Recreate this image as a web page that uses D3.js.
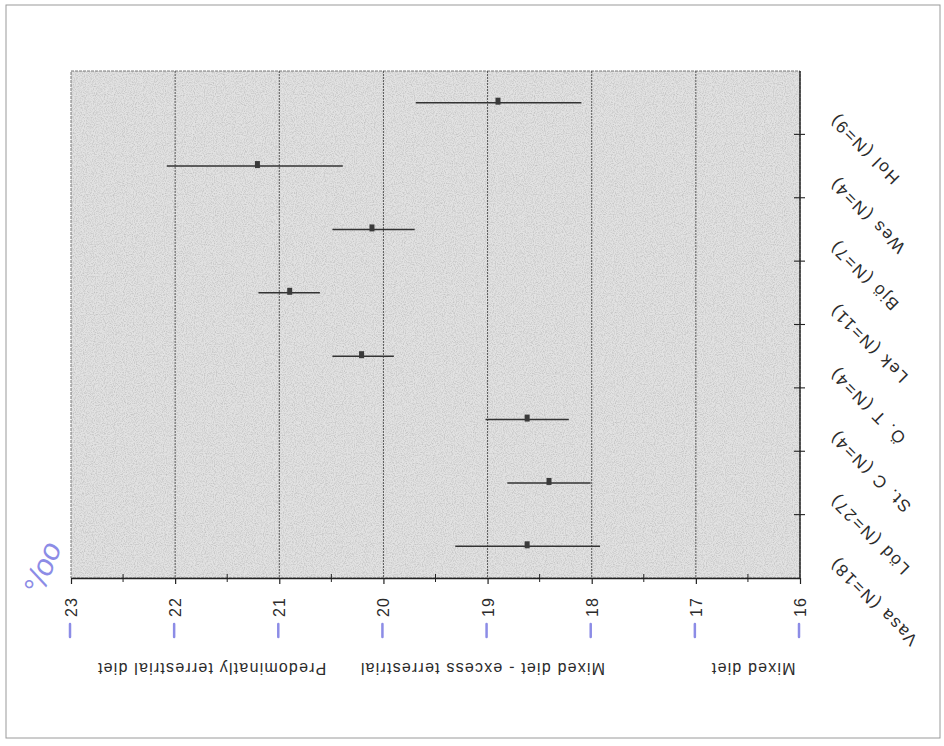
<!DOCTYPE html>
<html>
<head>
<meta charset="utf-8">
<script src="https://cdn.jsdelivr.net/npm/d3@7"></script>
<style>
  body { margin: 0; background: #fff; }
  text { font-family: "Liberation Sans", Arial, sans-serif; fill: #2b2b2b; }
</style>
</head>
<body>
<div id="chart"></div>
<script>
// values (axis runs 23 -> 16, drawn upside down)
const sites = ["Hol (N=9)", "Wes (N=4)", "Bjö (N=7)", "Lek (N=11)", "Ö. T (N=4)", "St. C (N=4)", "Löd (N=27)", "Vasa (N=18)"];
const means = [18.90, 21.21, 20.11, 20.90, 20.21, 18.62, 18.41, 18.62];
const lows  = [19.69, 22.08, 20.49, 21.20, 20.49, 19.02, 18.81, 19.31];
const highs = [18.10, 20.39, 19.70, 20.61, 19.90, 18.22, 18.01, 17.92];

const xTicks = [23, 22, 21, 20, 19, 18, 17, 16];
const zoneLabels = ["Predominatly terrestrial diet", "Mixed diet - excess terrestrial", "Mixed diet"];
const zoneCenters = [21.65, 19.05, 16.45];

const width = 944, height = 746;
const plot = {left: 71, right: 800, top: 71, bottom: 578};

const svg = d3.select("div#chart")
    .append("svg")
    .attr("width", width)
    .attr("height", height);

// grainy scan look for the shaded plot area
const grain = svg.append("defs").append("filter")
    .attr("id", "grain")
    .attr("x", 0).attr("y", 0).attr("width", "100%").attr("height", "100%");
grain.append("feTurbulence")
    .attr("type", "fractalNoise")
    .attr("baseFrequency", 0.9)
    .attr("numOctaves", 2)
    .attr("seed", 3)
    .attr("result", "n");
grain.append("feColorMatrix")
    .attr("in", "n")
    .attr("type", "matrix")
    .attr("values", "0 0 0 0 0.42  0 0 0 0 0.42  0 0 0 0 0.42  1.3 0 0 0 -0.52")
    .attr("result", "dots");
grain.append("feComposite")
    .attr("in", "dots").attr("in2", "SourceGraphic")
    .attr("operator", "in");

// outer page frame
svg.append("rect")
    .attr("x", 6).attr("y", 5)
    .attr("width", 934).attr("height", 733)
    .attr("fill", "none")
    .attr("stroke", "#9a9a9a")
    .attr("stroke-width", 1);

const x = d3.scaleLinear().domain([23, 16]).range([plot.left, plot.right]);
const y = d3.scaleBand().domain(sites).range([plot.top, plot.bottom]);

// plot background
svg.append("rect")
    .attr("x", plot.left).attr("y", plot.top)
    .attr("width", plot.right - plot.left)
    .attr("height", plot.bottom - plot.top)
    .attr("fill", "#e2e2e2");

svg.append("rect")
    .attr("x", plot.left).attr("y", plot.top)
    .attr("width", plot.right - plot.left)
    .attr("height", plot.bottom - plot.top)
    .attr("fill", "#000")
    .attr("filter", "url(#grain)");

svg.append("rect")
    .attr("x", plot.left).attr("y", plot.top)
    .attr("width", plot.right - plot.left)
    .attr("height", plot.bottom - plot.top)
    .attr("fill", "none")
    .attr("stroke", "#6a6a6a")
    .attr("stroke-width", 0.9)
    .attr("stroke-dasharray", "3,1");

// vertical grid lines
svg.selectAll("line.grid")
    .data(xTicks.slice(1, -1))
    .enter().append("line")
    .attr("class", "grid")
    .attr("x1", d => x(d)).attr("x2", d => x(d))
    .attr("y1", plot.top).attr("y2", plot.bottom)
    .attr("stroke", "#4a4a4a")
    .attr("stroke-width", 0.9)
    .attr("stroke-dasharray", "2,1");

// bottom axis
const xAxis = svg.append("g")
    .attr("transform", `translate(0,${plot.bottom})`)
    .call(d3.axisBottom(x).tickValues(xTicks).tickSize(6).tickFormat("").tickSizeOuter(0));
xAxis.select(".domain").attr("stroke", "#222").attr("stroke-width", 1.4);
xAxis.selectAll(".tick line").attr("stroke", "#222").attr("stroke-width", 1.2);

// minor ticks at half units
svg.selectAll("line.minor")
    .data(x.ticks(14).filter(d => !Number.isInteger(d)))
    .enter().append("line")
    .attr("class", "minor")
    .attr("x1", d => x(d)).attr("x2", d => x(d))
    .attr("y1", plot.bottom - 4).attr("y2", plot.bottom + 4)
    .attr("stroke", "#222").attr("stroke-width", 1);

// tick labels, turned sideways
svg.selectAll("text.tick-label")
    .data(xTicks)
    .enter().append("text")
    .attr("class", "tick-label")
    .attr("transform", d => `translate(${x(d) + 6},${plot.bottom + 39}) rotate(-90)`)
    .attr("font-size", 16)
    .attr("letter-spacing", 1.2)
    .text(d => d);

// hand-drawn minus marks under the numbers
svg.selectAll("line.pen")
    .data(xTicks)
    .enter().append("line")
    .attr("class", "pen")
    .attr("x1", d => x(d) - 1).attr("x2", d => x(d) - 1)
    .attr("y1", 624).attr("y2", 637)
    .attr("stroke", "#8c8ce6")
    .attr("stroke-width", 2.5)
    .attr("stroke-linecap", "round");

svg.append("text")
    .attr("transform", "translate(52,572) rotate(-68)")
    .attr("text-anchor", "middle")
    .attr("font-size", 30)
    .attr("font-style", "italic")
    .style("fill", "#8c8ce6")
    .text("°/oo");

// right axis line with ticks between categories
svg.append("line")
    .attr("x1", plot.right).attr("x2", plot.right)
    .attr("y1", plot.top).attr("y2", plot.bottom)
    .attr("stroke", "#222").attr("stroke-width", 1.4);

svg.selectAll("line.ytick")
    .data(sites.slice(1))
    .enter().append("line")
    .attr("class", "ytick")
    .attr("x1", plot.right - 6).attr("x2", plot.right + 5)
    .attr("y1", d => y(d)).attr("y2", d => y(d))
    .attr("stroke", "#222").attr("stroke-width", 1.1);

// category labels, upside down and slanted
svg.selectAll("text.site")
    .data(sites)
    .enter().append("text")
    .attr("class", "site")
    .attr("transform", d => `translate(${plot.right + 36},${y(d) + y.bandwidth() / 2 + 10}) rotate(-135)`)
    .attr("text-anchor", "end")
    .attr("font-size", 17)
    .attr("letter-spacing", 2)
    .text(d => d);

// error bars
const rows = sites.map((s, i) => ({site: s, mean: means[i], lo: lows[i], hi: highs[i]}));

svg.selectAll("line.bar")
    .data(rows)
    .enter().append("line")
    .attr("class", "bar")
    .attr("x1", d => x(d.lo)).attr("x2", d => x(d.hi))
    .attr("y1", d => y(d.site) + y.bandwidth() / 2)
    .attr("y2", d => y(d.site) + y.bandwidth() / 2)
    .attr("stroke", "#333")
    .attr("stroke-width", 1.6);

svg.selectAll("rect.mean")
    .data(rows)
    .enter().append("rect")
    .attr("class", "mean")
    .attr("x", d => x(d.mean) - 2.5)
    .attr("y", d => y(d.site) + y.bandwidth() / 2 - 5)
    .attr("width", 5).attr("height", 7)
    .attr("fill", "#3a3a3a");

// diet zone captions, upside down
svg.selectAll("text.zone")
    .data(zoneLabels)
    .enter().append("text")
    .attr("class", "zone")
    .attr("transform", (d, i) => `translate(${x(zoneCenters[i])},663) rotate(180)`)
    .attr("text-anchor", "middle")
    .attr("font-size", 16)
    .attr("letter-spacing", 1.2)
    .text(d => d);
</script>
</body>
</html>
